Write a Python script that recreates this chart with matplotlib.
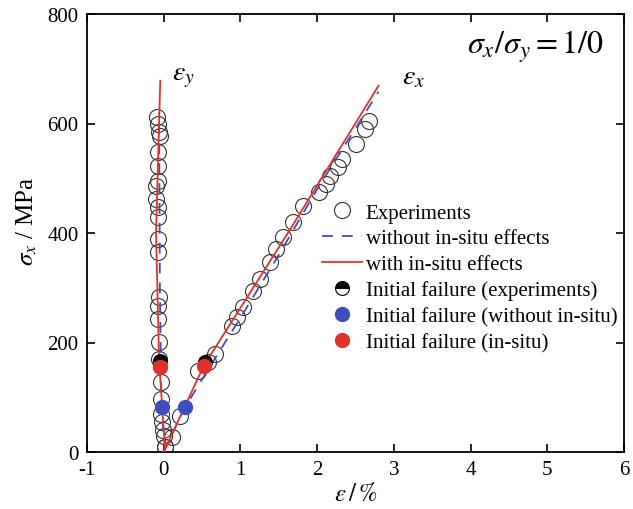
import matplotlib
matplotlib.use("Agg")
import matplotlib.pyplot as plt

plt.rcParams['font.family'] = ['Liberation Serif', 'DejaVu Serif']
plt.rcParams['mathtext.fontset'] = 'stix'
plt.rcParams['axes.unicode_minus'] = False

# Experimental points (strain %, stress MPa)
exp_ey_strain = [-0.09, -0.07, -0.06, -0.05, -0.07, -0.08, -0.08, -0.10, -0.10, -0.08, -0.08,
                 -0.07, -0.07, -0.06, -0.07, -0.07, -0.06, -0.06, -0.04, -0.03, -0.03, -0.02,
                 -0.01, 0.00, 0.02]
exp_ey_stress = [612, 600, 585, 578, 548, 523, 495, 485, 462, 448, 430, 389, 365, 283, 267,
                 243, 201, 170, 128, 97, 70, 55, 40, 29, 9]
exp_ex_strain = [0.02, 0.11, 0.21, 0.45, 0.58, 0.67, 0.89, 0.96, 1.04, 1.16, 1.26, 1.39, 1.46,
                 1.56, 1.69, 1.82, 2.02, 2.11, 2.17, 2.27, 2.33, 2.50, 2.63, 2.67]
exp_ex_stress = [9, 27, 66, 148, 164, 179, 230, 247, 265, 294, 316, 347, 371, 393, 420, 450,
                 475, 490, 505, 521, 535, 563, 590, 605]

# Model curves
insitu_ey_strain = [0.02, -0.06, -0.10, -0.045]
insitu_ey_stress = [0, 165, 400, 678]
insitu_ex_strain = [0.0, 0.52, 1.65, 2.80]
insitu_ex_stress = [0, 157, 407, 669]
noinsitu_ey_strain = [0.02, -0.03, -0.05, -0.06]
noinsitu_ey_stress = [0, 80, 300, 620]
noinsitu_ex_strain = [0.0, 0.27, 0.62, 1.0, 1.5, 2.0, 2.80]
noinsitu_ex_stress = [0, 80, 160, 245, 360, 480, 658]

# Initial failure points
fail_exp_strain = [-0.045, 0.54]
fail_exp_stress = [166, 164]
fail_no_strain = [-0.02, 0.28]
fail_no_stress = [82, 82]
fail_in_strain = [-0.045, 0.53]
fail_in_stress = [155, 157]

blue = '#3e4dc0'
red = '#e4302a'

fig = plt.figure(figsize=(6.33, 5.10), dpi=100)
ax = fig.add_axes([87/633, 1-453/510, 537/633, 438/510])

ax.plot(exp_ey_strain, exp_ey_stress, 'o', ms=11.5, mfc='none', mec='#333333', mew=0.8,
        label='Experiments', zorder=2)
ax.plot(exp_ex_strain, exp_ex_stress, 'o', ms=11.5, mfc='none', mec='#333333', mew=0.8, zorder=2)

ax.plot(noinsitu_ey_strain, noinsitu_ey_stress, color=blue, lw=1.3, dashes=(6, 5),
        label='without in-situ effects', zorder=3)
ax.plot(noinsitu_ex_strain, noinsitu_ex_stress, color=blue, lw=1.3, dashes=(6, 5), zorder=3)
ax.plot(insitu_ey_strain, insitu_ey_stress, color=red, lw=1.3,
        label='with in-situ effects', zorder=3)
ax.plot(insitu_ex_strain, insitu_ex_stress, color=red, lw=1.3, zorder=3)

ax.plot(fail_exp_strain, fail_exp_stress, 'o', ms=10, fillstyle='top', mfc='black',
        mfcalt='white', mec='black', mew=0.8, ls='none',
        label='Initial failure (experiments)', zorder=4)
ax.plot(fail_no_strain, fail_no_stress, 'o', ms=10, color=blue, mec=blue, ls='none',
        label='Initial failure (without in-situ)', zorder=5)
ax.plot(fail_in_strain, fail_in_stress, 'o', ms=10, color=red, mec=red, ls='none',
        label='Initial failure (in-situ)', zorder=5)

ax.set_xlim(-1, 6)
ax.set_ylim(0, 800)
ax.set_xticks(range(-1, 7))
ax.set_yticks([0, 200, 400, 600, 800])
ax.tick_params(direction='in', top=True, right=True, length=6, width=1.2,
               labelsize=15, pad=6)
for s in ax.spines.values():
    s.set_linewidth(1.3)

ax.set_xlabel(r'$\varepsilon\,/\,\%$', fontsize=18, labelpad=2)
ax.set_ylabel(r'$\sigma_x$ / MPa', fontsize=18, labelpad=4)
ax.yaxis.set_label_coords(-0.09, 0.53)

ax.text(0.11, 680, r'$\varepsilon_y$', fontsize=20)
ax.text(3.11, 673, r'$\varepsilon_x$', fontsize=20)
ax.text(5.74, 742, r'$\sigma_x/\sigma_y=1/0$', fontsize=23, ha='right', va='center')

ax.legend(loc='upper left', bbox_to_anchor=((322-87)/537, (453-204)/438),
          frameon=False, fontsize=15, borderpad=0, borderaxespad=0,
          handlelength=1.9, handletextpad=0.2, labelspacing=0.3)

fig.savefig('out.png', dpi=100)
